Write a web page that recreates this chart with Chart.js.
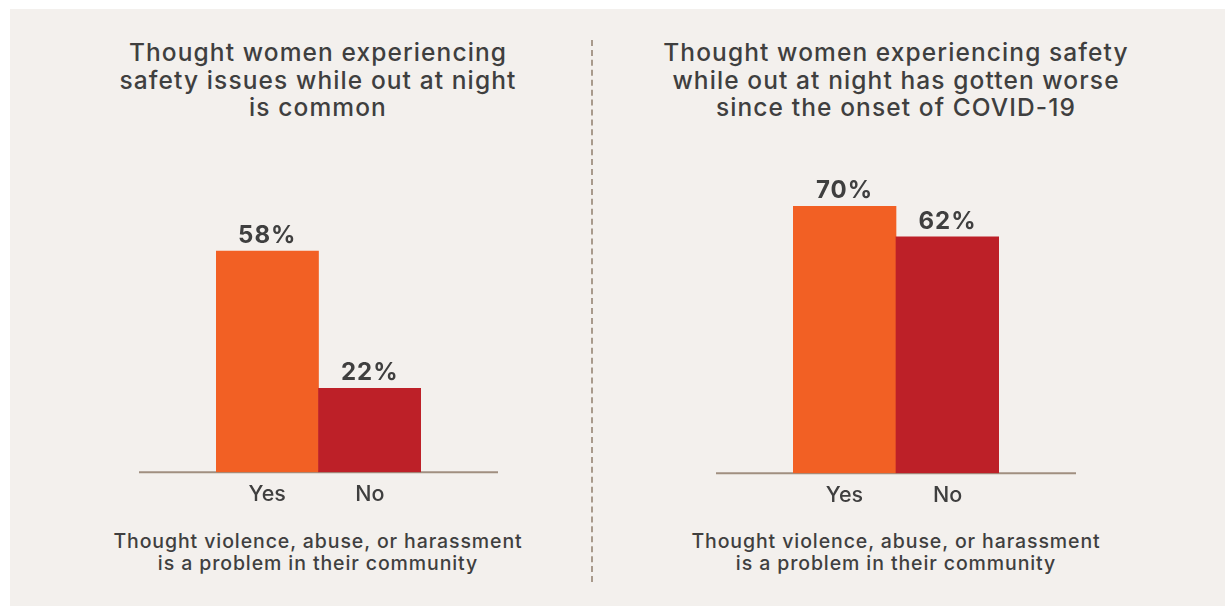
<!DOCTYPE html>
<html>
<head>
<meta charset="utf-8">
<script src="https://cdn.jsdelivr.net/npm/chart.js@4"></script>
<style>
  body { margin: 0; background: #ffffff; width: 1225px; height: 607px; overflow: hidden; position: relative; font-family: "Inter", sans-serif; color: #3f3f3f; }
  .panel { position: absolute; left: 10px; top: 9px; width: 1215px; height: 597px; background: #f3f0ed; }
  .title { position: absolute; width: 560px; text-align: center; font-size: 24.5px; font-weight: 500; line-height: 27.5px; letter-spacing: 1.1px; }
  .note { position: absolute; width: 560px; text-align: center; font-size: 19.5px; font-weight: 500; line-height: 22px; letter-spacing: 0.9px; }
  .divider { position: absolute; left: 591px; top: 40px; height: 542px; border-left: 2px dashed #a89a8c; }
  .chart { position: absolute; }
</style>
</head>
<body>
<div class="panel"></div>
<div class="divider"></div>

<div class="title" style="left:38px; top:39px;">Thought women experiencing<br>safety issues while out at night<br>is common</div>
<div class="title" style="left:616px; top:39px;">Thought women experiencing safety<br>while out at night has gotten worse<br>since the onset of COVID-19</div>

<div class="chart" style="left:139px; top:91px;"><canvas id="leftChart" width="359" height="417"></canvas></div>
<div class="chart" style="left:716px; top:92px;"><canvas id="rightChart" width="360" height="417"></canvas></div>

<div class="note" style="left:38px; top:530px;">Thought violence, abuse, or harassment<br>is a problem in their community</div>
<div class="note" style="left:616px; top:530px;">Thought violence, abuse, or harassment<br>is a problem in their community</div>

<script>
const categories = ["Yes", "No"];
const commonValues = [58, 22];
const worseValues = [70, 62];
const barColors = ["#f26024", "#bd2028"];

// baseline that runs past the bars to the edges of the canvas
const baseline = {
  id: "baseline",
  beforeDatasetsDraw(chart) {
    const ctx = chart.ctx;
    const y = chart.scales.y.getPixelForValue(0);
    ctx.save();
    ctx.strokeStyle = "#a08f80";
    ctx.lineWidth = 2;
    ctx.beginPath();
    ctx.moveTo(0, y);
    ctx.lineTo(chart.width, y);
    ctx.stroke();
    ctx.restore();
  }
};

// percent labels above each bar
const valueLabels = {
  id: "valueLabels",
  afterDatasetsDraw(chart) {
    const ctx = chart.ctx;
    const meta = chart.getDatasetMeta(0);
    const values = chart.data.datasets[0].data;
    ctx.save();
    ctx.fillStyle = "#3f3f3f";
    ctx.font = "bold 24px Inter, sans-serif";
    ctx.letterSpacing = "1px";
    ctx.textAlign = "center";
    ctx.textBaseline = "alphabetic";
    meta.data.forEach((bar, i) => {
      ctx.fillText(values[i] + "%", bar.x, bar.y - 8);
    });
    ctx.restore();
  }
};

function makeChart(id, values) {
  return new Chart(document.getElementById(id), {
    type: "bar",
    data: {
      labels: categories,
      datasets: [{
        data: values,
        backgroundColor: barColors,
        borderWidth: 0,
        barPercentage: 1,
        categoryPercentage: 1
      }]
    },
    options: {
      responsive: false,
      animation: false,
      layout: { padding: { left: 77, right: 77, top: 0, bottom: 0 } },
      plugins: { legend: { display: false }, tooltip: { enabled: false } },
      scales: {
        x: {
          grid: { display: false },
          border: { display: false },
          ticks: { color: "#3f3f3f", padding: 1, font: { family: "Inter, sans-serif", size: 21.5, weight: 500 } }
        },
        y: { display: false, min: 0, max: 100 }
      }
    },
    plugins: [baseline, valueLabels]
  });
}

makeChart("leftChart", commonValues);
makeChart("rightChart", worseValues);
</script>
</body>
</html>
